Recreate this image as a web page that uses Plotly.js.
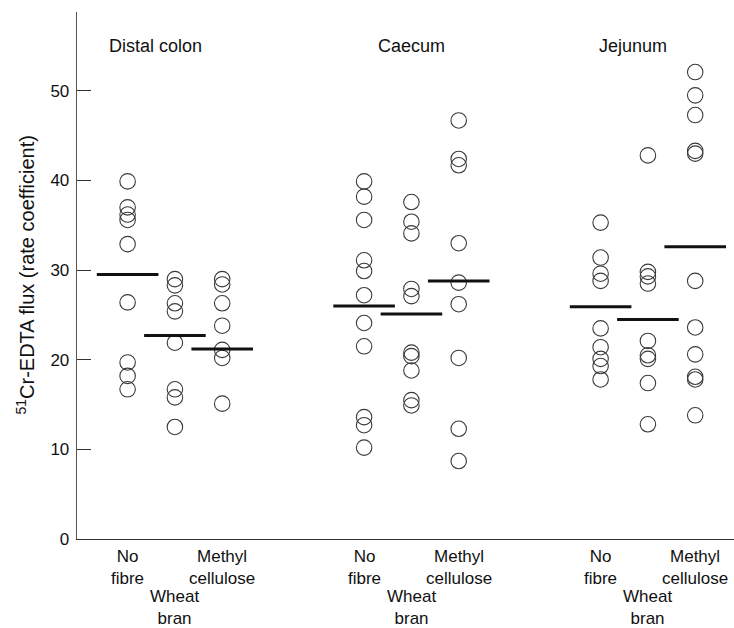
<!DOCTYPE html>
<html><head><meta charset="utf-8">
<script src="https://cdn.plot.ly/plotly-3.0.1.min.js"></script>
<style>html,body{margin:0;padding:0;background:#fff}#chart{width:734px;height:628px}</style>
</head><body><div id="chart"></div>
<script>
// Sites (panels) and treatments
const sites = ["Distal colon", "Caecum", "Jejunum"];
const treatments = ["No<br>fibre", "Wheat<br>bran", "Methyl<br>cellulose"];

// Individual values (51Cr-EDTA flux, rate coefficient)
const distalNoFibre = [39.9, 37.0, 36.2, 35.6, 32.9, 26.4, 19.7, 18.2, 16.7];
const distalWheatBran = [29.0, 28.3, 26.3, 25.4, 21.9, 16.7, 15.8, 12.5];
const distalMethyl = [29.0, 28.4, 26.3, 23.8, 21.1, 20.2, 15.1];
const caecumNoFibre = [39.9, 38.2, 35.6, 31.1, 29.9, 27.2, 24.1, 21.5, 13.6, 12.7, 10.2];
const caecumWheatBran = [37.6, 35.4, 34.1, 27.9, 27.1, 20.8, 20.4, 18.8, 15.5, 14.9];
const caecumMethyl = [46.7, 42.4, 41.7, 33.0, 28.6, 26.2, 20.2, 12.3, 8.7];
const jejunumNoFibre = [35.3, 31.4, 29.6, 28.8, 23.5, 21.4, 20.1, 19.3, 17.8];
const jejunumWheatBran = [42.8, 29.8, 29.3, 28.5, 22.1, 20.5, 20.1, 17.4, 12.8];
const jejunumMethyl = [52.1, 49.5, 47.3, 43.3, 43.0, 28.8, 23.6, 20.6, 18.1, 17.8, 13.8];

// Group means (horizontal bars)
const distalMeans = [29.5, 22.7, 21.2];
const caecumMeans = [26.0, 25.1, 28.8];
const jejunumMeans = [25.9, 24.5, 32.6];

const yTicks = [0, 10, 20, 30, 40, 50];

const groups = [
  [distalNoFibre, distalWheatBran, distalMethyl],
  [caecumNoFibre, caecumWheatBran, caecumMethyl],
  [jejunumNoFibre, jejunumWheatBran, jejunumMethyl]
];
const means = [distalMeans, caecumMeans, jejunumMeans];

const pos = (g, t) => g * 5 + t;
const titleOffset = [-0.4, 0, -0.32];
const FONT = "Liberation Sans, Arial, Helvetica, sans-serif";

const traces = [];
const px = [], py = [], mx = [], my = [];
groups.forEach((grp, g) => {
  grp.forEach((vals, t) => {
    vals.forEach(v => { px.push(pos(g, t)); py.push(v); });
    mx.push(pos(g, t)); my.push(means[g][t]);
  });
});
traces.push({
  type: "scatter", mode: "markers", x: px, y: py, hoverinfo: "y",
  marker: {symbol: "circle-open", size: 15.5, color: "#3a3a3a", line: {width: 1.1, color: "#3a3a3a"}},
  cliponaxis: false
});
traces.push({
  type: "scatter", mode: "markers", x: mx, y: my, hoverinfo: "y",
  marker: {symbol: "line-ew", size: 44, color: "#111", line: {width: 3, color: "#111"}}
});

const annotations = [];
sites.forEach((s, g) => {
  annotations.push({text: s, x: pos(g, 1) + titleOffset[g], xref: "x", y: 0.9355, yref: "paper",
    xanchor: "center", yanchor: "middle", showarrow: false,
    font: {family: FONT, size: 18, color: "#111"}});
  treatments.forEach((tr, t) => {
    annotations.push({text: tr, x: pos(g, t), xref: "x",
      y: t === 1 ? -0.087 : -0.012, yref: "paper",
      xanchor: "center", yanchor: "top", showarrow: false,
      font: {family: FONT, size: 17, color: "#111"}});
  });
});
annotations.push({text: "<sup>51</sup>Cr-EDTA flux (rate coefficient)", textangle: -90,
  x: (25 - 77) / 657, xref: "paper", y: 0.5, yref: "paper", showarrow: false,
  xanchor: "center", yanchor: "middle",
  font: {family: FONT, size: 20, color: "#111"}});

const layout = {
  width: 734, height: 628,
  margin: {l: 77, r: 0, t: 12, b: 89, pad: 0},
  paper_bgcolor: "#fff", plot_bgcolor: "#fff",
  showlegend: false,
  font: {family: FONT, size: 15, color: "#111"},
  xaxis: {range: [-1.07, 12.82], showgrid: false, zeroline: false,
    showline: true, linecolor: "#333", linewidth: 1.3,
    showticklabels: false, ticks: ""},
  yaxis: {range: [0, 58.8], showgrid: false, zeroline: false,
    showline: true, linecolor: "#555", linewidth: 1.3,
    ticks: "inside", ticklen: 14, tickwidth: 1.2, tickcolor: "#333",
    tickvals: yTicks, ticktext: yTicks.map(String),
    ticklabelstandoff: 3,
    tickfont: {family: FONT, size: 17, color: "#111"}},
  annotations: annotations
};

Plotly.newPlot("chart", traces, layout, {displayModeBar: false, staticPlot: true});
</script>
</body></html>
